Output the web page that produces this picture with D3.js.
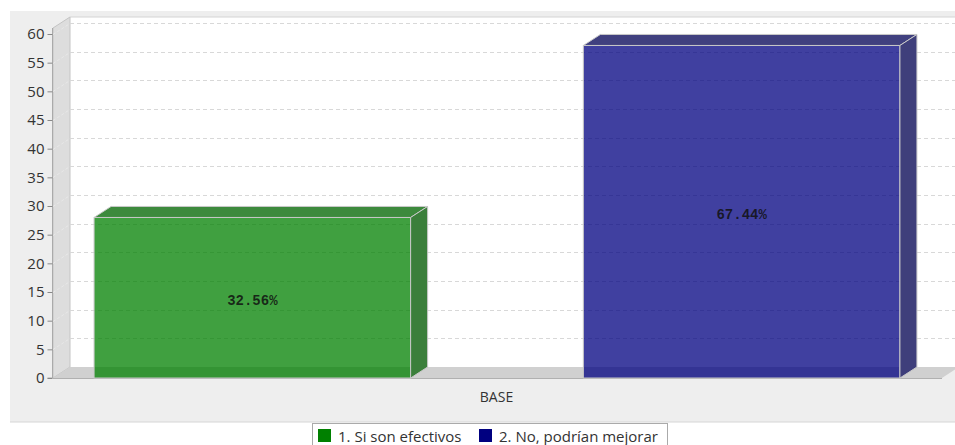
<!DOCTYPE html>
<html>
<head>
<meta charset="utf-8">
<script src="https://cdn.jsdelivr.net/npm/d3@7"></script>
<style>
  html, body { margin: 0; padding: 0; background: #ffffff; }
  svg { display: block; }
</style>
</head>
<body>
<svg id="chart" width="955" height="445"></svg>
<script>
// Survey answers (counts) for the single category
const categories = ["BASE"];
const seriesNames = ["1. Si son efectivos", "2. No, podrían mejorar"];
const seriesValues = [28, 58];
const seriesColors = ["#008000", "#000080"];
const yTicks = [0, 5, 10, 15, 20, 25, 30, 35, 40, 45, 50, 55, 60];

const total = d3.sum(seriesValues);
const pct = v => (v / total * 100).toFixed(2) + "%";

const svg = d3.select("#chart");
const W = 955, H = 445;

// 3D depth offset of walls and bars
const DX = 17, DY = -11;

// Front plane geometry
const plotLeft = 53, plotRight = 942, plotBottom = 378, plotTop = 34;

const y = d3.scaleLinear().domain([0, 60]).range([plotBottom, plotTop]);
const x0 = d3.scaleBand().domain(categories).range([plotLeft, plotRight]).paddingOuter(0.0509).paddingInner(0);
const x1 = d3.scaleBand().domain(seriesNames).range([0, x0.bandwidth() - 1]).paddingInner(0.353).paddingOuter(0);

const sans = "'Open Sans', sans-serif";

// panel background
svg.append("rect").attr("x", 10).attr("y", 11).attr("width", W - 10).attr("height", 411)
  .attr("fill", "#eeeeee");
svg.append("line").attr("x1", 10).attr("x2", W).attr("y1", 422).attr("y2", 422)
  .attr("stroke", "#d6d6d6");

const wallTop = y(60) - 6;

// back wall
svg.append("rect")
  .attr("x", plotLeft + DX).attr("y", wallTop + DY)
  .attr("width", W - (plotLeft + DX)).attr("height", plotBottom - wallTop)
  .attr("fill", "#ffffff");
svg.append("line").attr("x1", plotLeft + DX).attr("x2", W)
  .attr("y1", wallTop + DY).attr("y2", wallTop + DY).attr("stroke", "#d4d4d4");

// left wall
svg.append("path")
  .attr("d", `M${plotLeft},${plotBottom} L${plotLeft},${wallTop} L${plotLeft + DX},${wallTop + DY} L${plotLeft + DX},${plotBottom + DY} Z`)
  .attr("fill", "#dddddd").attr("stroke", "#c4c4c4").attr("stroke-width", 1);

// floor
svg.append("path")
  .attr("d", `M${plotLeft},${plotBottom} L${plotRight},${plotBottom} L${plotRight + DX},${plotBottom + DY} L${plotLeft + DX},${plotBottom + DY} Z`)
  .attr("fill", "#d0d0d0");
svg.append("line").attr("x1", plotLeft).attr("x2", plotRight).attr("y1", plotBottom + 0.5).attr("y2", plotBottom + 0.5)
  .attr("stroke", "#b0b0b0");

// gridlines on back wall and left wall
const grid = svg.append("g");
yTicks.filter(t => t > 0).forEach(t => {
  const yy = Math.round(y(t)) + 0.5;
  grid.append("line")
    .attr("x1", plotLeft + DX).attr("x2", W)
    .attr("y1", yy + DY).attr("y2", yy + DY)
    .attr("stroke", "#d8d8d8").attr("stroke-dasharray", "4,3");
  grid.append("line")
    .attr("x1", plotLeft).attr("x2", plotLeft + DX)
    .attr("y1", yy).attr("y2", yy + DY)
    .attr("stroke", "#e8e8e8").attr("stroke-dasharray", "3,2");
});

// y axis
const yAxis = d3.axisLeft(y).tickValues(yTicks).tickSize(5).tickPadding(3);
const ax = svg.append("g").attr("transform", `translate(${plotLeft - 0.5},0)`).call(yAxis);
ax.select(".domain").attr("stroke", "#aaaaaa").attr("d", `M-5,${plotBottom}H0V${wallTop}`);
ax.selectAll(".tick line").attr("stroke", "#888888");
ax.selectAll(".tick text")
  .attr("font-family", sans).attr("font-size", 15).attr("fill", "#333333");

// bars
const topShade = ["#3d8a3d", "#40407f"];
const sideShade = ["#3b7f3b", "#3f3f7b"];
const bars = svg.append("g");
seriesNames.forEach((name, i) => {
  const v = seriesValues[i];
  const bx = x0(categories[0]) + x1(name);
  const bw = x1.bandwidth();
  const by = y(v);
  const g = bars.append("g");
  // front face
  g.append("rect").attr("x", bx).attr("y", by).attr("width", bw).attr("height", plotBottom - by)
    .attr("fill", seriesColors[i]).attr("fill-opacity", 0.75)
    .attr("stroke", "#c8c8c8").attr("stroke-width", 1);
  // top face
  g.append("path")
    .attr("d", `M${bx},${by} L${bx + DX},${by + DY} L${bx + bw + DX},${by + DY} L${bx + bw},${by} Z`)
    .attr("fill", topShade[i]).attr("stroke", "#c8c8c8").attr("stroke-width", 1);
  // side face
  g.append("path")
    .attr("d", `M${bx + bw},${by} L${bx + bw + DX},${by + DY} L${bx + bw + DX},${plotBottom + DY} L${bx + bw},${plotBottom} Z`)
    .attr("fill", sideShade[i]).attr("stroke", "#c8c8c8").attr("stroke-width", 1);
  // value label
  g.append("text")
    .attr("x", bx + bw / 2).attr("y", (by + plotBottom) / 2 + 7)
    .attr("text-anchor", "middle")
    .attr("font-family", "'Liberation Mono', 'Courier New', monospace").attr("font-weight", "bold")
    .attr("font-size", 14)
    .attr("fill", "#111111").attr("fill-opacity", 0.85)
    .text(pct(v));
});

// category label
svg.append("text")
  .attr("x", x0(categories[0]) + x0.bandwidth() / 2 - 1).attr("y", 402)
  .attr("text-anchor", "middle")
  .attr("font-family", sans).attr("font-size", 14).attr("fill", "#333333")
  .text(categories[0]);

// legend
const leg = svg.append("g");
leg.append("rect").attr("x", 312.5).attr("y", 423.5).attr("width", 355).attr("height", 30)
  .attr("fill", "#ffffff").attr("stroke", "#aaaaaa");
const legX = [318, 479];
seriesNames.forEach((name, i) => {
  leg.append("rect").attr("x", legX[i]).attr("y", 429).attr("width", 13).attr("height", 13)
    .attr("fill", seriesColors[i]);
  leg.append("text").attr("x", legX[i] + 20).attr("y", 442)
    .attr("font-family", sans).attr("font-size", 15).attr("fill", "#333333")
    .text(name);
});
</script>
</body>
</html>
